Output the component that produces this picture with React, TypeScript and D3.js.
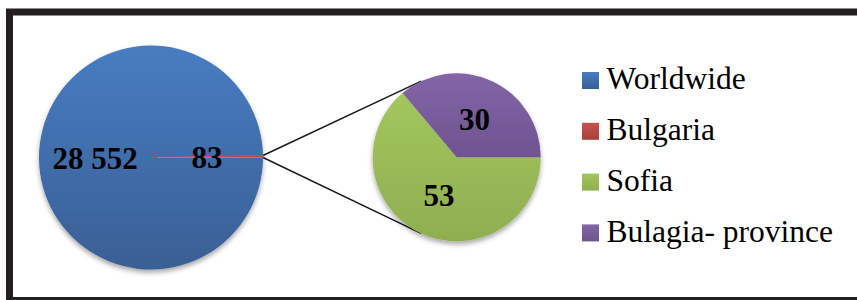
import React from "react";
import * as d3 from "d3";

const outerCategories = ["Worldwide", "Bulgaria"];
const outerValues = [28552, 83];
const outerLabels = ["28 552", "83"];
const innerCategories = ["Sofia", "Bulagia- province"];
const innerValues = [53, 30];
const innerLabels = ["53", "30"];
const legendLabels = ["Worldwide", "Bulgaria", "Sofia", "Bulagia- province"];

const colors: Record<string, [string, string]> = {
  Worldwide: ["#477cc2", "#3a5f94"],
  Bulgaria: ["#c8524e", "#a8403d"],
  Sofia: ["#a3c65e", "#8fae50"],
  "Bulagia- province": ["#8366a6", "#6f5390"],
};

const W = 857;
const H = 300;

export default function App() {
  const big = { cx: 151, cy: 157.5, r: 112 };
  const small = { cx: 456.7, cy: 157.3, r: 84 };

  const bigPie = d3
    .pie<number>()
    .sort(null)
    .startAngle(Math.PI / 2)
    .endAngle(Math.PI / 2 + 2 * Math.PI)(outerValues);
  const smallPie = d3
    .pie<number>()
    .sort(null)
    .startAngle(Math.PI / 2)
    .endAngle(Math.PI / 2 + 2 * Math.PI)(innerValues);

  const bigArc = d3.arc<d3.PieArcDatum<number>>().innerRadius(0).outerRadius(big.r);
  const smallArc = d3.arc<d3.PieArcDatum<number>>().innerRadius(0).outerRadius(small.r);

  const pt = (c: { cx: number; cy: number }, r: number, a: number) => [
    c.cx + r * Math.sin(a),
    c.cy - r * Math.cos(a),
  ];

  const bulg = bigPie[1];
  const topStart = pt(big, big.r, bulg.startAngle);
  const botStart = pt(big, big.r, bulg.endAngle);
  const topEnd = pt(small, small.r, (-25 * Math.PI) / 180);
  const botEnd = pt(small, small.r, (205 * Math.PI) / 180);
  const edgeEnd = pt(big, big.r - 1, bigPie[0].startAngle);

  const legendX = 582;
  const legendY0 = 72;
  const legendStep = 50.8;
  const sq = 17;

  const font = "Liberation Serif";

  return (
    <svg
      width={W}
      height={H}
      style={{ position: "absolute", left: 0, top: 0, background: "#fff" }}
    >
      <defs>
        {Object.entries(colors).map(([k, [a, b]], i) => (
          <linearGradient key={k} id={`g${i}`} x1="0" y1="0" x2="0" y2="1">
            <stop offset="0" stopColor={a} />
            <stop offset="1" stopColor={b} />
          </linearGradient>
        ))}
        <filter id="shadow" x="-20%" y="-20%" width="140%" height="140%">
          <feDropShadow dx="0" dy="3" stdDeviation="2.5" floodColor="#000" floodOpacity="0.35" />
        </filter>
      </defs>
      <rect x={9.5} y={12} width={900} height={288.5} fill="#fff" stroke="#231f20" strokeWidth={7} />

      <line x1={topStart[0]} y1={topStart[1]} x2={topEnd[0]} y2={topEnd[1]} stroke="#1a1a1a" strokeWidth={1.5} />
      <line x1={botStart[0]} y1={botStart[1]} x2={botEnd[0]} y2={botEnd[1]} stroke="#1a1a1a" strokeWidth={1.5} />

      <g transform={`translate(${big.cx},${big.cy})`} filter="url(#shadow)">
        {bigPie.map((d, i) => (
          <path
            key={i}
            d={bigArc(d) || ""}
            fill={`url(#g${legendLabels.indexOf(outerCategories[i])})`}
            stroke={i === 1 ? "#c0504d" : "none"}
            strokeWidth={i === 1 ? 1 : 0}
          />
        ))}
      </g>
      <line x1={big.cx + 7} y1={big.cy} x2={edgeEnd[0]} y2={edgeEnd[1]} stroke="#3ea6b8" strokeWidth={1} />

      <g transform={`translate(${small.cx},${small.cy})`} filter="url(#shadow)">
        {smallPie.map((d, i) => (
          <path
            key={i}
            d={smallArc(d) || ""}
            fill={`url(#g${legendLabels.indexOf(innerCategories[i])})`}
          />
        ))}
      </g>

      {bigPie.map((d, i) => {
        const [x, y] = bigArc.centroid(d);
        return (
          <text
            key={i}
            x={big.cx + x}
            y={big.cy + y}
            dy="0.34em"
            textAnchor="middle"
            style={{ fontFamily: font, fontWeight: 700, fontSize: 31 }}
            fill="#000"
          >
            {outerLabels[i]}
          </text>
        );
      })}
      {smallPie.map((d, i) => {
        const [x, y] = smallArc.centroid(d);
        return (
          <text
            key={i}
            x={small.cx + x}
            y={small.cy + y}
            dy="0.34em"
            textAnchor="middle"
            style={{ fontFamily: font, fontWeight: 700, fontSize: 31 }}
            fill="#000"
          >
            {innerLabels[i]}
          </text>
        );
      })}

      {legendLabels.map((l, i) => (
        <g key={l} transform={`translate(${legendX},${legendY0 + i * legendStep})`}>
          <rect width={sq} height={sq} fill={`url(#g${i})`} />
          <text
            x={24.5}
            y={17.3}
            style={{ fontFamily: font, fontWeight: 400, fontSize: 31.5 }}
            fill="#000"
          >
            {l}
          </text>
        </g>
      ))}
    </svg>
  );
}
